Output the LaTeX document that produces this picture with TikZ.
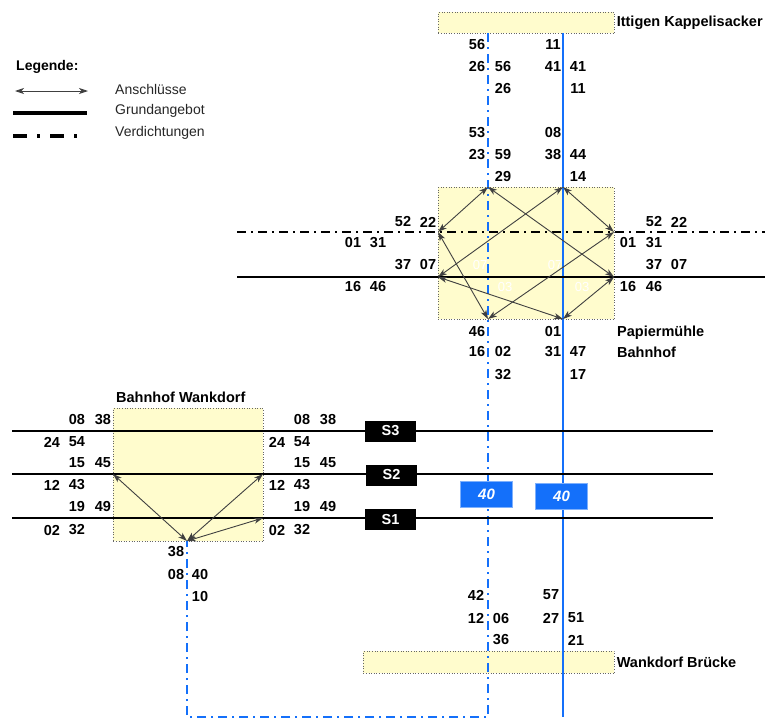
\documentclass[tikz,border=0pt]{standalone}
\usepackage{fontspec}
\setmainfont{Liberation Sans}
\usetikzlibrary{arrows.meta,positioning}

\definecolor{busblau}{RGB}{20,112,250}
\definecolor{haltgelb}{RGB}{255,252,205}

\tikzset{
  halt/.style={draw=black!60, dotted, line width=0.6pt, fill=haltgelb, inner sep=0pt, anchor=north west},
  zeit/.style={font=\bfseries\fontsize{14.5}{16}\selectfont, inner sep=0pt},
  ort/.style={font=\bfseries\fontsize{14.5}{21}\selectfont, inner sep=0pt, anchor=west, align=left},
  legtext/.style={font=\fontsize{14}{16}\selectfont, inner sep=0pt, anchor=west, text=black!85},
  anschluss/.style={{Stealth[length=9pt,width=6pt,inset=2.5pt]}-{Stealth[length=9pt,width=6pt,inset=2.5pt]}, draw=black!75, line width=0.9pt},
  grund/.style={line width=2pt},
  verdicht/.style={line width=2pt, dash pattern=on 9pt off 5pt on 2pt off 5pt},
  linie/.style={fill=black, text=white, font=\bfseries\fontsize{14.5}{16}\selectfont, minimum width=51pt, minimum height=21pt, inner sep=0pt},
  bus/.style={fill=busblau, draw=busblau!55, line width=0.8pt, text=white, font=\bfseries\itshape\fontsize{15}{17}\selectfont, minimum width=52pt, minimum height=26pt, inner sep=0pt},
  geist/.style={text=white, font=\fontsize{13}{15}\selectfont, inner sep=0pt}
}

\begin{document}
\begin{tikzpicture}[x=1pt, y=-1pt]
  \useasboundingbox (0,0) rectangle (765,720);

  % Legende
  \node[font=\bfseries\fontsize{14}{16}\selectfont, inner sep=0pt, anchor=west] (legende) at (16,67) {Legende:};
  \coordinate (la1) at (15,91);  \coordinate (la2) at (88,91);
  \coordinate (lg1) at (13,113); \coordinate (lg2) at (87,113);
  \coordinate (lv1) at (13,136); \coordinate (lv2) at (87,136);
  \draw[anschluss] (la1) -- (la2);
  \draw[line width=3.5pt] (lg1) -- (lg2);
  \draw[line width=3.5pt, dash pattern=on 14pt off 10pt on 3pt off 10pt] (lv1) -- (lv2);
  \node[legtext] (lanschl) at (115,89) {Anschlüsse};
  \node[legtext] (lgrund) at (115,111) {Grundangebot};
  \node[legtext] (lverd) at (115,133) {Verdichtungen};

  % Haltestellen
  \node[halt, minimum width=176pt, minimum height=21pt] (ittigen) at (438,12) {};
  \node[halt, minimum width=176pt, minimum height=132pt] (papier) at (438,187) {};
  \node[halt, minimum width=150pt, minimum height=133pt] (wankdorf) at (113,408) {};
  \node[halt, minimum width=251pt, minimum height=22pt] (bruecke) at (363,651) {};
  \node[ort, right=2pt of ittigen] (nIttigen) {Ittigen Kappelisacker};
  \node[ort] (nPapier) at (617,342) {Papiermühle\\Bahnhof};
  \node[ort] (nWankdorf) at (116,397) {Bahnhof Wankdorf};
  \node[ort, right=2pt of bruecke] (nBruecke) {Wankdorf Brücke};

  % Buslinie 40
  \coordinate (d1) at (488,33);  \coordinate (d2) at (488,717);
  \coordinate (d3) at (187,717); \coordinate (w0) at (187,541);
  \coordinate (e1) at (563,33);  \coordinate (e2) at (563,717);
  \draw[verdicht, busblau] (d1) -- (d2) -- (d3) -- (w0);
  \draw[grund, busblau] (e1) -- (e2);

  % Bahnlinien
  \coordinate (h1) at (237,232); \coordinate (h2) at (765,232);
  \coordinate (h3) at (237,277); \coordinate (h4) at (765,277);
  \draw[verdicht] (h1) -- (h2);
  \draw[grund] (h3) -- (h4);
  \foreach \n/\y in {3/431, 2/474, 1/518}{
    \coordinate (sa\n) at (12,\y);
    \coordinate (sb\n) at (713,\y);
    \draw[grund] (sa\n) -- (sb\n);
  }
  \node[linie] (s3) at (390.5,431) {S3};
  \node[linie] (s2) at (391.5,475) {S2};
  \node[linie] (s1) at (390.5,519) {S1};
  \node[bus] (bus1) at (486.5,494.5) {40};
  \node[bus] (bus2) at (561.5,496.5) {40};

  % Anschluesse Papiermuehle
  \coordinate (t1) at (488,187); \coordinate (t2) at (563,187);
  \coordinate (l1) at (438,232); \coordinate (l2) at (438,277);
  \coordinate (r1) at (614,232); \coordinate (r2) at (614,277);
  \coordinate (b1) at (488,319); \coordinate (b2) at (563,319);
  \draw[anschluss] (t1) -- (l1);
  \draw[anschluss] (t1) -- (r2);
  \draw[anschluss] (t2) -- (l2);
  \draw[anschluss] (t2) -- (r1);
  \draw[anschluss] (l1) -- (b1);
  \draw[anschluss] (l2) -- (b2);
  \draw[anschluss] (r1) -- (b1);
  \draw[anschluss] (r2) -- (b2);
  \node[geist] (g1) at (480,265) {07};
  \node[geist] (g2) at (555,265) {07};
  \node[geist] (g3) at (505,287) {03};
  \node[geist] (g4) at (582,287) {03};

  % Anschluesse Wankdorf
  \coordinate (wl) at (113,474); \coordinate (wr) at (263,474);
  \coordinate (wr1) at (263,518);
  \draw[anschluss] (w0) -- (wl);
  \draw[anschluss] (w0) -- (wr);
  \draw[anschluss] (w0) -- (wr1);

  % Abfahrtszeiten Bus
  \foreach \x/\y/\t in {477/45/56, 553/45/11, 477/67/26, 503/67/56, 553/67/41, 578/67/41,
      503/89/26, 578/89/11, 477/133/53, 553/133/08, 477/155/23, 503/155/59,
      553/155/38, 578/155/44, 503/177/29, 578/177/14,
      477/332/46, 553/332/01, 477/352/16, 503/352/02, 553/352/31, 578/352/47,
      503/375/32, 578/375/17,
      476/595/42, 551/595/57, 476/618/12, 501/618/06, 551/618/27, 576/618/51,
      501/640/36, 576/640/21,
      176/552/38, 176/574/08, 200/574/40, 200/596/10}
    \node[zeit] (z-\x-\y) at (\x,\y) {\t};

  % Abfahrtszeiten Bahn Papiermuehle
  \foreach \x/\y/\t in {403/222/52, 428/222/22, 353/243/01, 378/243/31,
      403/265/37, 428/265/07, 353/287/16, 378/287/46,
      654/222/52, 679/222/22, 628/243/01, 654/243/31,
      654/265/37, 679/265/07, 628/287/16, 654/287/46}
    \node[zeit] (p-\x-\y) at (\x,\y) {\t};

  % Abfahrtszeiten Bahn Wankdorf
  \foreach \d in {0,225}{
    \foreach \x/\y/\t in {77/420/08, 103/420/38, 52/442/24, 77/442/54,
        77/463/15, 103/463/45, 52/485/12, 77/485/43,
        77/507/19, 103/507/49, 52/530/02, 77/530/32}
      \node[zeit] (w-\d-\x-\y) at (\x+\d,\y) {\t};
  }
\end{tikzpicture}
\end{document}
